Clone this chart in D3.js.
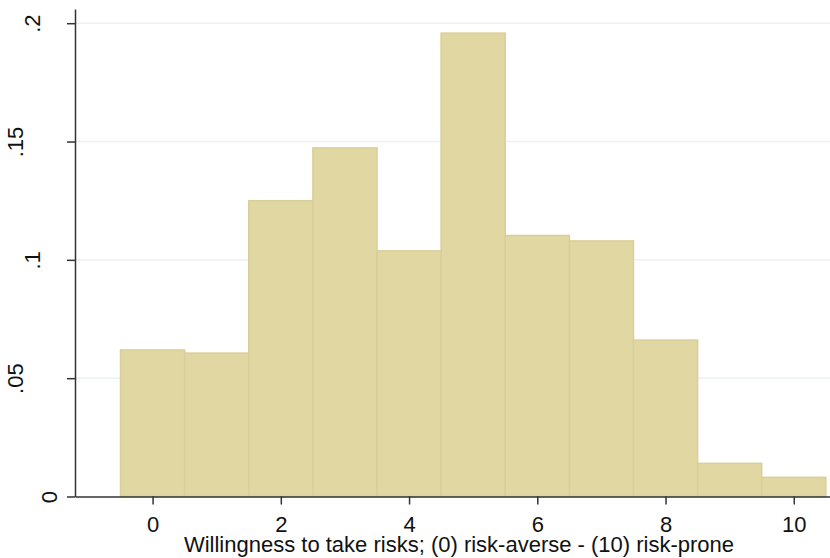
<!DOCTYPE html>
<html>
<head>
<meta charset="utf-8">
<script src="https://cdn.jsdelivr.net/npm/d3@7"></script>
<style>
  body { margin: 0; background: #fff; }
  svg { display: block; font-family: "Liberation Sans", Arial, sans-serif; }
</style>
</head>
<body>
<svg id="hist" width="830" height="558"></svg>
<script>
// histogram data: risk score 0..10, density per bin
const categories = [0, 1, 2, 3, 4, 5, 6, 7, 8, 9, 10];
const density = [0.0619, 0.0606, 0.1250, 0.1473, 0.1038, 0.1958, 0.1103, 0.1080, 0.0661, 0.0140, 0.0081];
const xTicks = [0, 2, 4, 6, 8, 10];
const yTicks = [0, 0.05, 0.1, 0.15, 0.2];
const yTickLabels = ["0", ".05", ".1", ".15", ".2"];
const xTitle = "Willingness to take risks; (0) risk-averse - (10) risk-prone";

const svg = d3.select('#hist');
const plot = { left: 75, right: 830, top: 9, bottom: 496.5 };
const fontSize = 22;

const x = d3.scaleLinear()
    .domain([-1.21, 10.565])
    .range([plot.left, plot.right]);

const y = d3.scaleLinear()
    .domain([0, 0.206])
    .range([plot.bottom, plot.top]);

// gridlines
svg.append("g")
    .selectAll("line")
    .data(yTicks.filter(d => d > 0))
    .enter().append("line")
    .attr("x1", plot.left).attr("x2", plot.right)
    .attr("y1", d => y(d)).attr("y2", d => y(d))
    .attr("stroke", "#eaf2f3")
    .attr("stroke-width", 1.5);

// bars
svg.append("g")
    .selectAll("rect")
    .data(categories)
    .enter().append("rect")
    .attr("x", d => x(d - 0.5))
    .attr("width", d => x(d + 0.5) - x(d - 0.5))
    .attr("y", (d, i) => y(density[i]))
    .attr("height", (d, i) => y(0) - y(density[i]))
    .attr("fill", "#e1d7a3")
    .attr("stroke", "#d8cf98")
    .attr("stroke-width", 1.5);

// x axis
const gx = svg.append("g")
    .attr("transform", "translate(0," + plot.bottom + ")")
    .call(d3.axisBottom(x).tickValues(xTicks).tickSize(8).tickSizeOuter(0).tickPadding(12));
gx.select(".domain").attr("stroke", "#333").attr("stroke-width", 1.5);
gx.selectAll(".tick line").attr("stroke", "#333").attr("stroke-width", 1.5);
gx.selectAll(".tick text")
    .attr("font-size", fontSize)
    .attr("font-family", "Liberation Sans, Arial, sans-serif")
    .attr("fill", "#111");

// y axis (labels rotated, stata style)
const gy = svg.append("g")
    .attr("transform", "translate(" + plot.left + ",0)")
    .call(d3.axisLeft(y).tickValues(yTicks).tickSize(8).tickSizeOuter(0).tickFormat((d, i) => yTickLabels[i]));
gy.select(".domain").attr("stroke", "#333").attr("stroke-width", 1.5);
gy.selectAll(".tick line").attr("stroke", "#333").attr("stroke-width", 1.5);
gy.selectAll(".tick text")
    .attr("font-size", fontSize)
    .attr("font-family", "Liberation Sans, Arial, sans-serif")
    .attr("fill", "#111")
    .attr("text-anchor", "middle")
    .attr("dy", null)
    .attr("x", null)
    .attr("transform", (d, i) => "translate(" + (57 - 17 * (yTickLabels[i].length - 1) - plot.left) + ",0) rotate(-90)");

// x title
svg.append("text")
    .attr("x", 459)
    .attr("y", 552)
    .attr("text-anchor", "middle")
    .attr("font-size", fontSize)
    .attr("fill", "#111")
    .text(xTitle);
</script>
</body>
</html>
